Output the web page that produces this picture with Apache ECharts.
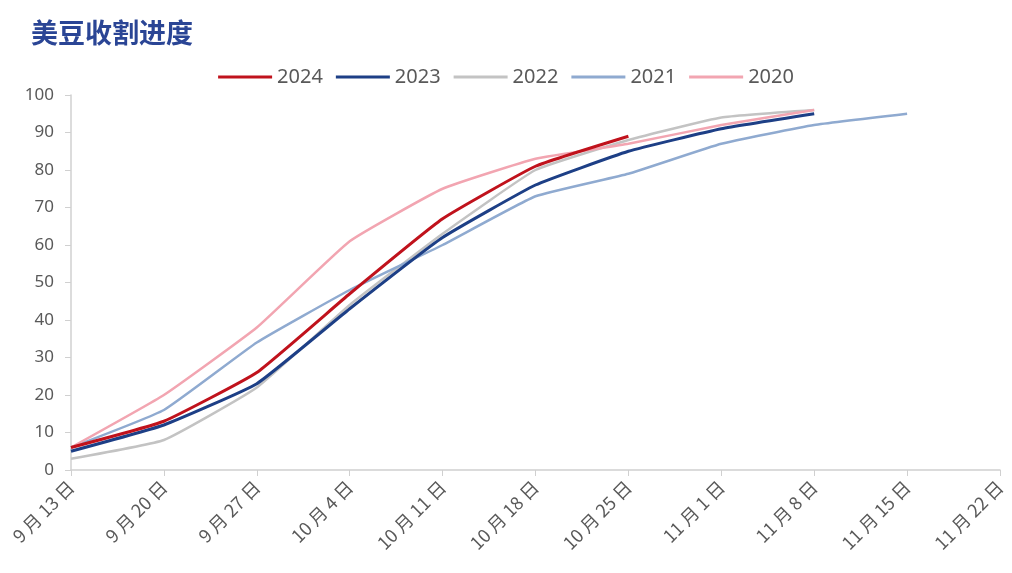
<!DOCTYPE html>
<html>
<head>
<meta charset="utf-8">
<script src="https://cdn.jsdelivr.net/npm/echarts@6/dist/echarts.min.js"></script>
<style>
  html, body { margin: 0; padding: 0; background: #ffffff; }
  #chart { width: 1012px; height: 573px; }
</style>
</head>
<body>
<div id="chart"></div>
<script>
// Weekly US soybean harvest progress (%)
const categories = ['9 月 13 日', '9 月 20 日', '9 月 27 日', '10 月 4 日', '10 月 11 日', '10 月 18 日', '10 月 25 日', '11 月 1 日', '11 月 8 日', '11 月 15 日', '11 月 22 日'];
const y2024 = [6, 13, 26, 47, 67, 81, 89];
const y2023 = [5, 12, 23, 43, 62, 76, 85, 91, 95];
const y2022 = [3, 8, 22, 44, 63, 80, 88, 94, 96];
const y2021 = [6, 16, 34, 48, 60, 73, 79, 87, 92, 95];
const y2020 = [6, 20, 38, 61, 75, 83, 87, 92, 96];
const yTicks = [0, 10, 20, 30, 40, 50, 60, 70, 80, 90, 100];

const seriesDefs = [
  { name: '2024', data: y2024, color: '#c0121c', width: 3 },
  { name: '2023', data: y2023, color: '#1d3f86', width: 3 },
  { name: '2022', data: y2022, color: '#c3c3c3', width: 2.5 },
  { name: '2021', data: y2021, color: '#8faad0', width: 2.5 },
  { name: '2020', data: y2020, color: '#f2a5b1', width: 2.5 }
];

const chart = echarts.init(document.getElementById('chart'));
chart.setOption({
  backgroundColor: '#ffffff',
  animation: false,
  title: {
    text: '美豆收割进度',
    left: 26,
    top: 14,
    textStyle: {
      fontFamily: '"Noto Sans CJK SC", sans-serif',
      fontSize: 27,
      fontWeight: 'bold',
      color: '#2a4595'
    }
  },
  legend: {
    top: 62,
    left: 'center',
    itemWidth: 54,
    itemHeight: 3,
    itemGap: 13,
    icon: 'rect',
    textStyle: { fontFamily: '"Noto Sans", sans-serif', fontSize: 20, color: '#595959' },
    data: seriesDefs.map(s => s.name)
  },
  grid: { left: 71, right: 12, top: 95, bottom: 103, containLabel: false },
  xAxis: {
    type: 'category',
    boundaryGap: false,
    data: categories,
    axisLine: { lineStyle: { color: '#d0d0d0', width: 1.5 } },
    axisTick: { show: true, alignWithLabel: true, length: 6, lineStyle: { color: '#d0d0d0' } },
    axisLabel: {
      rotate: 45,
      interval: 0,
      margin: 14,
      fontFamily: '"Noto Sans CJK SC", sans-serif',
      fontSize: 18,
      color: '#595959'
    },
    splitLine: { show: false }
  },
  yAxis: {
    type: 'value',
    min: yTicks[0],
    max: yTicks[yTicks.length - 1],
    interval: 10,
    axisLine: { show: true, lineStyle: { color: '#d0d0d0', width: 1.5 } },
    axisTick: { show: true, length: 6, lineStyle: { color: '#d0d0d0' } },
    axisLabel: {
      margin: 17,
      fontFamily: '"Noto Sans", sans-serif',
      fontSize: 17,
      color: '#595959'
    },
    splitLine: { show: false }
  },
  series: seriesDefs.map(s => ({
    name: s.name,
    type: 'line',
    data: s.data,
    showSymbol: false,
    symbol: 'none',
    smooth: 0.12,
    lineStyle: { color: s.color, width: s.width },
    itemStyle: { color: s.color },
    z: s.name === '2024' ? 10 : (s.name === '2023' ? 9 : 5)
  }))
});
</script>
</body>
</html>
